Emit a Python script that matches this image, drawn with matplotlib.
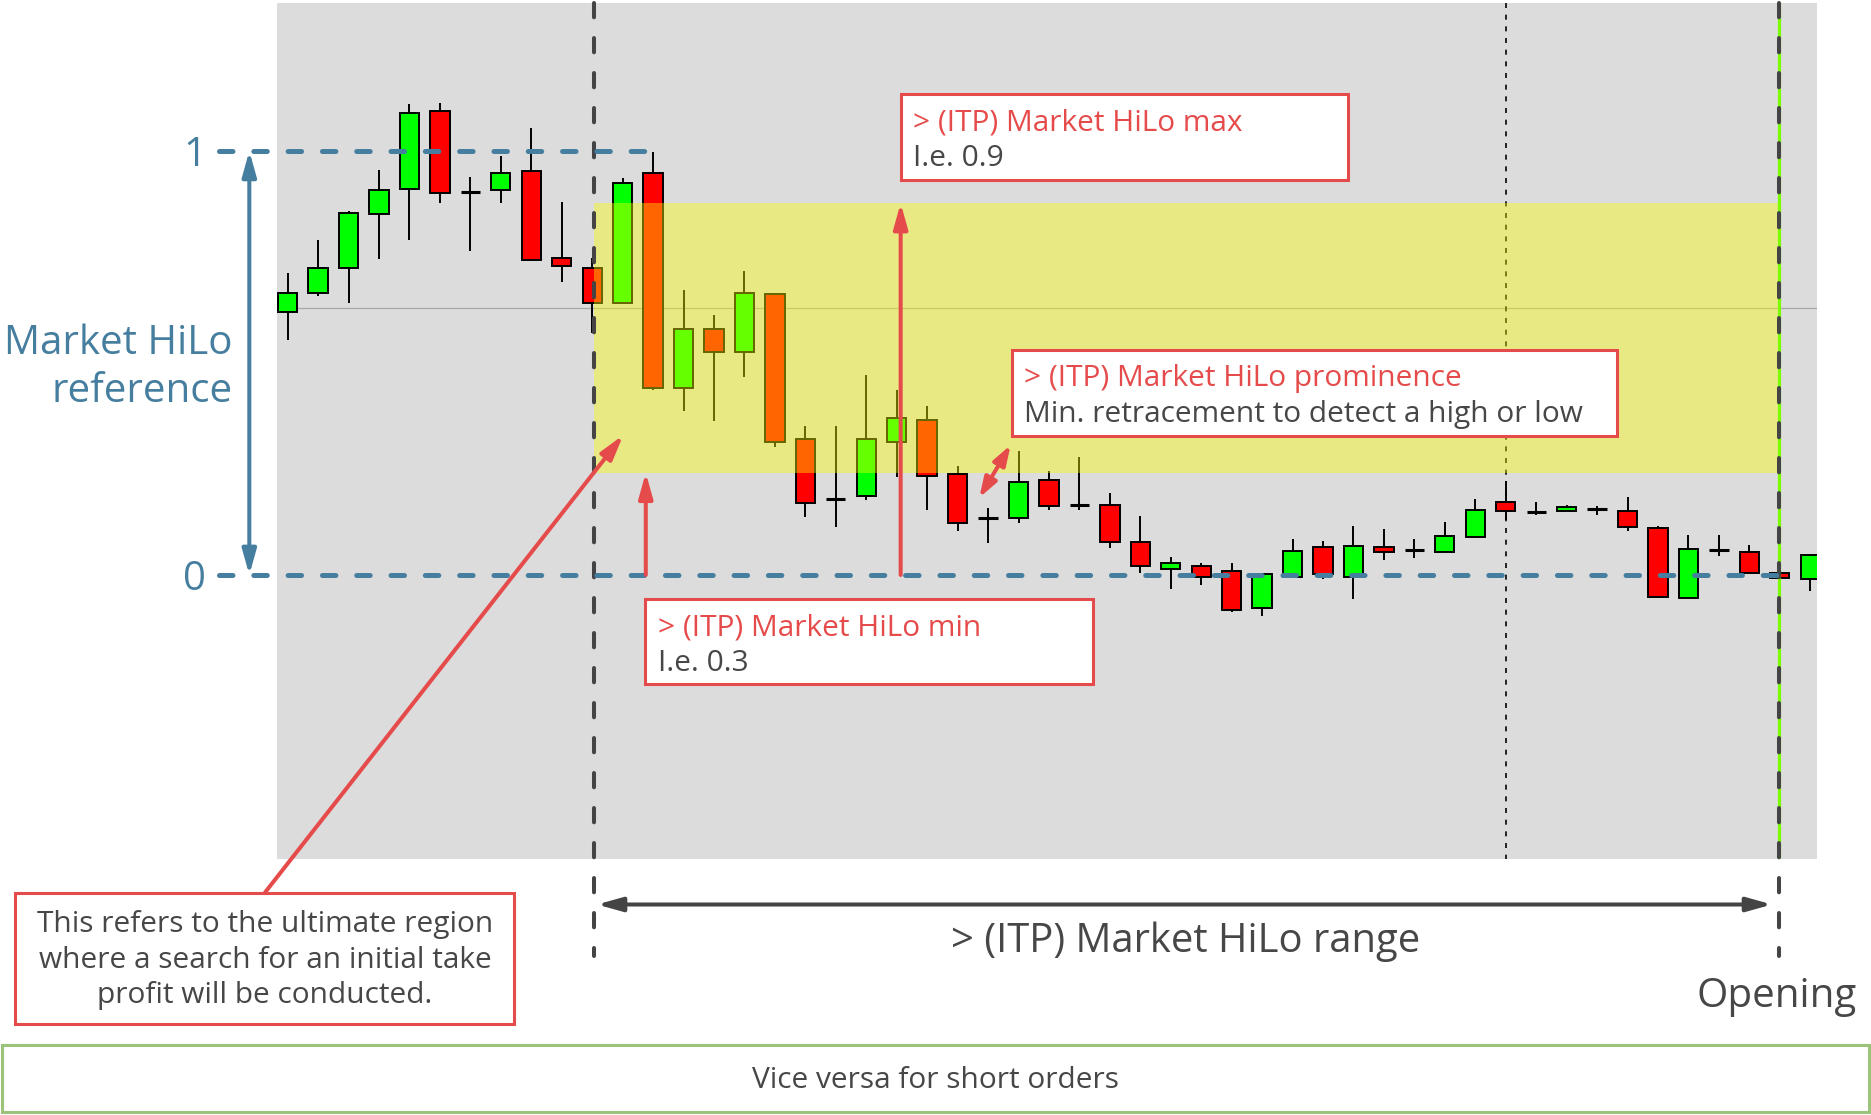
import matplotlib
matplotlib.use('Agg')
import matplotlib.pyplot as plt
from matplotlib.patches import Rectangle, FancyArrowPatch, ArrowStyle

plt.rcParams['font.family'] = ['Open Sans', 'DejaVu Sans']
plt.rcParams['lines.scale_dashes'] = False

# candles, in units of the HiLo reference (0 = low level, 1 = high level)
opens = [0.620, 0.664, 0.723, 0.851, 0.911, 1.094, 0.903, 0.907, 0.953, 0.748,
         0.725, 0.642, 0.947, 0.442, 0.579, 0.525, 0.662, 0.320, 0.179, 0.187,
         0.314, 0.366, 0.238, 0.134, 0.134, 0.224, 0.165, 0.165, 0.078, 0.014,
         0.020, 0.009, -0.077, -0.004, 0.065, -0.004, 0.065, 0.059, 0.055, 0.090,
         0.171, 0.149, 0.150, 0.155, 0.151, 0.110, -0.055, 0.059, 0.055, 0.005,
         -0.009]
highs = [0.713, 0.790, 0.858, 0.955, 1.110, 1.114, 0.939, 0.987, 1.054, 0.880,
         0.748, 0.936, 0.998, 0.671, 0.612, 0.717, 0.664, 0.352, 0.352, 0.472,
         0.436, 0.399, 0.258, 0.157, 0.293, 0.244, 0.279, 0.194, 0.139, 0.043,
         0.029, 0.029, 0.002, 0.084, 0.080, 0.116, 0.108, 0.084, 0.126, 0.179,
         0.222, 0.171, 0.165, 0.163, 0.185, 0.116, 0.094, 0.094, 0.071, 0.028,
         0.047]
lows = [0.554, 0.658, 0.641, 0.745, 0.790, 0.877, 0.763, 0.877, 0.742, 0.691,
        0.570, 0.642, 0.436, 0.387, 0.363, 0.468, 0.301, 0.136, 0.113, 0.177,
        0.232, 0.153, 0.104, 0.076, 0.122, 0.153, 0.153, 0.063, 0.005, -0.033,
        -0.024, -0.088, -0.097, -0.004, -0.010, -0.057, 0.035, 0.041, 0.055, 0.090,
        0.130, 0.142, 0.150, 0.142, 0.104, -0.055, -0.055, 0.045, 0.004, -0.043,
        -0.037]
closes = [0.666, 0.725, 0.853, 0.908, 1.090, 0.902, 0.903, 0.948, 0.742, 0.729,
          0.642, 0.925, 0.442, 0.579, 0.525, 0.666, 0.314, 0.169, 0.179, 0.320,
          0.371, 0.233, 0.123, 0.134, 0.220, 0.163, 0.165, 0.077, 0.020, 0.029,
          -0.004, -0.083, 0.002, 0.057, 0.002, 0.069, 0.055, 0.059, 0.092, 0.152,
          0.151, 0.149, 0.161, 0.155, 0.114, -0.051, 0.061, 0.059, 0.004, -0.008,
          0.047]

hilo_max = 0.877      # top of the yellow band
hilo_min = 0.241      # bottom of the yellow band
ref_line = 0.630      # thin grey line
range_start = 10.06   # candle index where the HiLo range starts
opening = 48.97       # candle index of the opening
marker = 40           # dotted marker

BLUE = '#467E9F'
RED = '#E64B4B'
TXT = '#474747'
DARK = '#444444'

W, H = 1871, 1115
fig = plt.figure(figsize=(W / 100, H / 100), dpi=100)
ax = fig.add_axes([277 / W, 1 - 859 / H, (1816.7 - 277) / W, (859 - 3) / H])
ax.set_facecolor('#DCDCDC')
ax.set_xlim(-0.351, 50.213)
ax.set_ylim(-0.670, 1.349)
y_top, y_bot, y_far = 1.349, -0.670, -0.899
for s in ax.spines.values():
    s.set_visible(False)
ax.set_xticks([])
ax.set_yticks([0, 1])
ax.set_yticklabels(['0', '1'], fontsize=29, color=BLUE)
ax.tick_params(axis='y', length=0, pad=51)

# candles
w = 0.634
for i, (o, h, l, c) in enumerate(zip(opens, highs, lows, closes)):
    ax.vlines(i, l, h, color='black', lw=1.4, zorder=2)
    if c == o:
        ax.hlines(o, i - w / 2, i + w / 2, color='black', lw=2.2, zorder=3)
    else:
        col = '#00FF00' if c > o else '#FF0000'
        ax.bar(i, c - o, bottom=o, width=w, color=col, edgecolor='black',
               lw=1.4, zorder=3)

ax.axhline(ref_line, color='#A8A8A8', lw=0.9, zorder=1)
ax.plot([marker, marker], [y_top, y_bot], color='#222222', lw=1.4,
        dashes=(3.6, 4.8), zorder=1.5)
ax.fill_between([range_start, opening], hilo_min, hilo_max, color='#FFFF00',
                alpha=0.4, lw=0, zorder=4)
ax.plot([opening, opening], [y_top, y_bot], color='#7CFC00', lw=2.3, zorder=5)
for xv in (range_start, opening):
    ax.plot([xv, xv], [y_top, y_far], color=DARK, lw=2.9, dashes=(10.3, 14.9),
            dash_capstyle='round', clip_on=False, zorder=6)

# HiLo reference levels
ax.plot([-2.25, 12.06], [1, 1], color=BLUE, lw=3.6, dashes=(9.7, 15),
        dash_capstyle='round', clip_on=False, zorder=7)
ax.plot([-2.25, opening], [0, 0], color=BLUE, lw=3.6, dashes=(9.7, 15),
        dash_capstyle='round', clip_on=False, zorder=7)


def arrow(axis, p0, p1, color, style='-|>', lw=2.9, hl=15, hw=4.2, z=8):
    a = FancyArrowPatch(p0, p1, arrowstyle=ArrowStyle(style, head_length=hl, head_width=hw),
                        mutation_scale=1, color=color, lw=lw, shrinkA=0, shrinkB=0,
                        clip_on=False, zorder=z)
    axis.add_patch(a)


arrow(ax, (-1.26, 0), (-1.26, 1), BLUE, style='<|-|>')
arrow(ax, (11.76, 0), (11.76, hilo_min), RED)
arrow(ax, (20.13, 0), (20.13, hilo_max), RED)

# overlay in pixel coordinates for the annotations
ov = fig.add_axes([0, 0, 1, 1], zorder=5)
ov.set_xlim(0, W)
ov.set_ylim(H, 0)
ov.axis('off')
ov.patch.set_alpha(0)

ov.text(232.3, 354, 'Market HiLo', ha='right', va='baseline', fontsize=29, color=BLUE)
ov.text(232.3, 401.7, 'reference', ha='right', va='baseline', fontsize=29, color=BLUE)

arrow(ov, (265, 892.5), (623.3, 435), RED)
arrow(ov, (979.3, 497.7), (1010.7, 445), RED, style='<|-|>', hl=12, hw=4)
arrow(ov, (597, 904.5), (1772, 904.5), DARK, style='<|-|>')


def box(x0, y0, x1, y1, ec, lw=2.2):
    ov.add_patch(Rectangle((x0, y0), x1 - x0, y1 - y0, fc='white', ec=ec, lw=lw, zorder=9))


fs = 21.5
box(900.8, 94.3, 1348.3, 180.2, RED)
ov.text(913.5, 130.3, '> (ITP) Market HiLo max', color=RED, fontsize=fs, va='baseline', zorder=10)
ov.text(913.5, 166.3, 'I.e. 0.9', color=TXT, fontsize=fs, va='baseline', zorder=10)

box(1011.8, 349.6, 1616.8, 435.5, RED)
ov.text(1024.5, 385.6, '> (ITP) Market HiLo prominence', color=RED, fontsize=fs, va='baseline', zorder=10)
ov.text(1024.5, 421.6, 'Min. retracement to detect a high or low', color=TXT, fontsize=fs,
        va='baseline', zorder=10)

box(645.5, 599, 1093, 683.7, RED)
ov.text(658.5, 635, '> (ITP) Market HiLo min', color=RED, fontsize=fs, va='baseline', zorder=10)
ov.text(658.5, 671, 'I.e. 0.3', color=TXT, fontsize=fs, va='baseline', zorder=10)

box(15.5, 892.5, 514.3, 1023.8, RED)
for yb, line in zip([931.9, 967.7, 1003.5],
                    ['This refers to the ultimate region',
                     'where a search for an initial take',
                     'profit will be conducted.']):
    ov.text(265, yb, line, ha='center', va='baseline', color=TXT, fontsize=fs, zorder=10)

ov.text(1186, 952, '> (ITP) Market HiLo range', ha='center', va='baseline', color=TXT, fontsize=28.8)
ov.text(1776.7, 1006.7, 'Opening', ha='center', va='baseline', color=TXT, fontsize=29)

box(2.4, 1045, 1868.6, 1112, '#9BC47A')
ov.text(935.5, 1088.2, 'Vice versa for short orders', ha='center', va='baseline', color=TXT,
        fontsize=fs, zorder=10)

fig.savefig('out.png', dpi=100)
